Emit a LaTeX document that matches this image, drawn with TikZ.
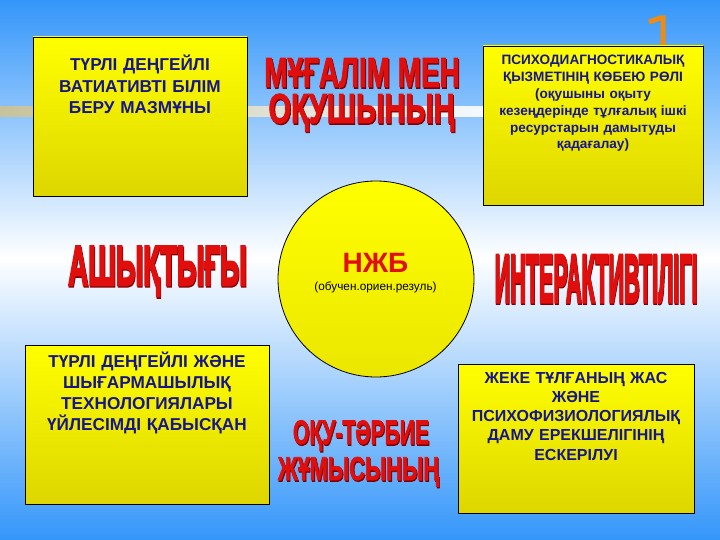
\documentclass[tikz,border=0pt]{standalone}
\usepackage{fontspec}
\setmainfont{Liberation Sans}
\newfontfamily\wafont[FakeBold=2.2]{Liberation Sans Bold}
\newfontfamily\wafontx[FakeBold=4.5]{Liberation Sans Bold}
\definecolor{bgblue}{RGB}{52,150,250}
\definecolor{yel}{RGB}{255,255,0}
\definecolor{yeldark}{RGB}{222,214,0}
\definecolor{navy}{RGB}{22,22,140}
\definecolor{wared}{RGB}{225,14,14}
\definecolor{wadark}{RGB}{125,0,0}
\definecolor{band}{RGB}{205,195,145}
\definecolor{orangemark}{RGB}{236,140,20}
\newcommand{\wat}[1]{\makebox[0pt][l]{\kern1.4pt\raisebox{-1.4pt}{\color{wadark}#1}}#1}
\begin{document}
\begin{tikzpicture}[x=1pt,y=-1pt,
  box/.style={draw=black, line width=0.8pt, top color=yel, bottom color=yeldark, inner sep=0pt},
  boxtext/.style={text=navy, align=center, inner sep=0pt, anchor=base},
  wa/.style={text=wared, inner sep=0pt, anchor=base}]
\useasboundingbox (0,0) rectangle (720,540);
% background
\shade[top color=bgblue, bottom color=white] (0,0) rectangle (720,258);
\shade[top color=white, bottom color=bgblue] (0,257) rectangle (720,540);
% faint band
\shade[left color=band, right color=white, opacity=0.9] (0,107) rectangle (483,117);
% orange mark
\draw[orangemark, line width=5pt, line join=miter] (649,22) -- (660,18) -- (663,18) -- (663,46);
% boxes
\node[box, minimum width=214pt, minimum height=159pt] (b1) at (140,116.5) {};
\node[box, minimum width=220pt, minimum height=159pt] (b2) at (593,125.5) {};
\node[box, minimum width=244pt, minimum height=159pt] (b3) at (147,424.5) {};
\node[box, minimum width=236pt, minimum height=149pt] (b4) at (576,438.5) {};
% circle
\node[circle, draw=black, line width=0.8pt, top color=yel, bottom color=yeldark!60!yel, minimum size=196pt, inner sep=0pt] (c) at (376,279) {};
% box texts
\node[boxtext, text width=214pt, font=\bfseries\fontsize{17.2}{21.3}\selectfont] (t1) at (140,71) {ТҮРЛІ ДЕҢГЕЙЛІ\\ВАТИАТИВТІ БІЛІМ\\БЕРУ МАЗМҰНЫ};
\node[boxtext, text width=220pt, font=\bfseries\fontsize{13.6}{16.8}\selectfont] (t2) at (593,65) {ПСИХОДИАГНОСТИКАЛЫҚ\\ҚЫЗМЕТІНІҢ КӨБЕЮ РӨЛІ\\(оқушыны оқыту\\кезеңдерінде тұлғалық ішкі\\ресурстарын дамытуды\\қадағалау)};
\node[boxtext, text width=244pt, font=\bfseries\fontsize{17.2}{21}\selectfont] (t3) at (147,367) {ТҮРЛІ ДЕҢГЕЙЛІ ЖӘНЕ\\ШЫҒАРМАШЫЛЫҚ\\ТЕХНОЛОГИЯЛАРЫ\\ҮЙЛЕСІМДІ ҚАБЫСҚАН};
\node[boxtext, text width=236pt, font=\bfseries\fontsize{16}{19.3}\selectfont] (t4) at (576,383) {ЖЕКЕ ТҰЛҒАНЫҢ ЖАС\\ЖӘНЕ\\ПСИХОФИЗИОЛОГИЯЛЫҚ\\ДАМУ ЕРЕКШЕЛІГІНІҢ\\ЕСКЕРІЛУІ};
% circle texts
\node[wa, font=\bfseries\fontsize{28}{28}\selectfont] (n1) at (375.5,272) {НЖБ};
\node[inner sep=0pt, anchor=base, font=\fontsize{11.8}{12}\selectfont] (n2) at (375.5,290) {(обучен.ориен.резуль)};
% word art
\node[wa] (w1) at (362,87) {\scalebox{0.665}[1]{\fontsize{42}{42}\wafont\wat{МҰҒАЛІМ МЕН}}};
\node[wa] (w2) at (361.5,123) {\scalebox{0.69}[1]{\fontsize{42}{42}\wafont\wat{ОҚУШЫНЫҢ}}};
\node[wa] (w3) at (157.5,285) {\scalebox{0.495}[1]{\fontsize{56}{56}\wafontx\wat{АШЫҚТЫҒЫ}}};
\node[wa] (w4) at (596,302) {\scalebox{0.318}[1]{\fontsize{68}{68}\wafontx\wat{ИНТЕРАКТИВТІЛІГІ}}};
\node[wa] (w5) at (361,444) {\scalebox{0.62}[1]{\fontsize{34}{34}\wafont\wat{ОҚУ-ТӘРБИЕ}}};
\node[wa] (w6) at (358.5,480) {\scalebox{0.66}[1]{\fontsize{33}{33}\wafont\wat{ЖҰМЫСЫНЫҢ}}};
\end{tikzpicture}
\end{document}
